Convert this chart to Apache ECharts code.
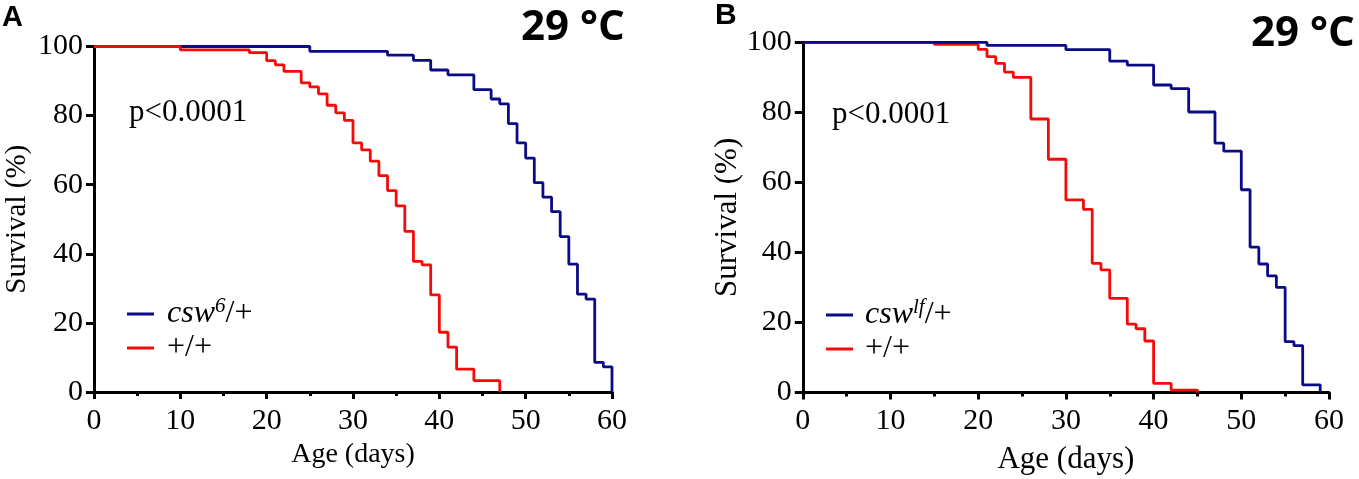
<!DOCTYPE html>
<html>
<head>
<meta charset="utf-8">
<title>Survival 29 °C</title>
<script src="https://cdn.jsdelivr.net/npm/echarts@6.0.0/dist/echarts.min.js"></script>
<style>
  html, body { margin: 0; padding: 0; background: #fff; }
  #chart { width: 1359px; height: 479px; }
</style>
</head>
<body>
<div id="chart"></div>
<script>
// survival steps: [day, % surviving after that day]
var cswA = [[0,100],[25,98.6],[34,97.5],[37,96.0],[39,93.2],[41,91.8],[44,87.5],[46,84.8],[47,83.4],
  [48,77.7],[49,72.1],[50,67.7],[51,60.6],[52,56.4],[53,52.2],[54,45.0],[55,37.0],[56,28.3],
  [57,26.9],[58,8.6],[59,7.3],[60,0]];
var wtA = [[0,100],[10,99.0],[18,98.2],[20,95.9],[21,94.7],[22,92.8],[24,89.5],[25,88.3],[26,86.3],
  [27,83.0],[28,80.8],[29,78.6],[30,72.1],[31,70.1],[32,66.8],[33,62.6],[34,58.3],[35,53.9],
  [36,46.5],[37,37.8],[38,36.8],[39,28.1],[40,17.3],[41,13.0],[42,6.6],[44,3.3],[47,0]];
var cswB = [[0,100],[21,99.1],[30,97.9],[35,94.6],[37,93.5],[40,87.8],[42,86.8],[44,80.1],[47,71.2],
  [48,68.9],[50,57.9],[51,41.5],[52,36.7],[53,33.3],[54,30.0],[55,14.5],[56,13.4],[57,2.2],[59,0]];
var wtB = [[0,100],[15,99.4],[20,98.0],[21,95.9],[22,94.0],[23,91.5],[24,90.0],[26,78.1],[28,66.6],
  [30,55.0],[32,52.3],[33,36.9],[34,35.0],[35,26.9],[37,19.5],[38,18.2],[39,14.7],[40,2.6],
  [42,0.7],[45,0]];

var legendA = ['csw6', 'wtA'];
var legendB = ['cswlf', 'wtB'];
var supText = { csw6: '6', cswlf: 'lf' };

var serif = "'Liberation Serif', 'Times New Roman', serif";
var navy = '#0b0b85';
var red = '#f50a0a';

function xAxisFor(idx, fs, gap) {
  return {
    gridIndex: idx, type: 'value', min: 0, max: 60, interval: 10,
    name: 'Age (days)', nameLocation: 'middle', nameGap: gap,
    nameTextStyle: { fontFamily: serif, fontSize: fs, color: '#000' },
    axisLine: { lineStyle: { color: '#000', width: 3 } },
    axisTick: { length: 7, lineStyle: { color: '#000', width: 3 } },
    minorTick: { show: true, splitNumber: 2, length: 4, lineStyle: { color: '#000', width: 3 } },
    axisLabel: { fontFamily: serif, fontSize: 30, color: '#000', margin: 14 },
    splitLine: { show: false }
  };
}
function yAxisFor(idx, fs, gap) {
  return {
    gridIndex: idx, type: 'value', min: 0, max: 100, interval: 20,
    name: 'Survival (%)', nameLocation: 'middle', nameGap: gap,
    nameTextStyle: { fontFamily: serif, fontSize: fs, color: '#000' },
    axisLine: { show: true, lineStyle: { color: '#000', width: 3 } },
    axisTick: { show: true, length: 8, lineStyle: { color: '#000', width: 3 } },
    axisLabel: { fontFamily: serif, fontSize: 30, color: '#000', margin: 11 },
    splitLine: { show: false }
  };
}
function stepLine(name, data, color, idx) {
  return {
    name: name, type: 'line', step: 'end', data: data, xAxisIndex: idx, yAxisIndex: idx,
    showSymbol: false, symbol: 'none', lineStyle: { color: color, width: 2.8 },
    itemStyle: { color: color }
  };
}
function richFor(pad) {
  return {
    it: { fontFamily: serif, fontStyle: 'italic', fontSize: 32, color: '#000', lineHeight: 36, padding: [0, 0, 0, pad] },
    sup: { fontFamily: serif, fontStyle: 'italic', fontSize: 21, color: '#000', lineHeight: 18, verticalAlign: 'top' },
    rm: { fontFamily: serif, fontSize: 32, color: '#000', lineHeight: 36 },
    rm0: { fontFamily: serif, fontSize: 32, color: '#000', lineHeight: 36, padding: [0, 0, 0, pad] }
  };
}
function legendText(name) {
  if (supText[name]) return '{it|csw}{sup|' + supText[name] + '}{rm|/+}';
  return '{rm0|+/+}';
}
function legendFor(names, left, top, pad) {
  return {
    data: names, orient: 'vertical', left: left, top: top, icon: 'rect',
    itemWidth: 27, itemHeight: 3, itemGap: 2, selectedMode: false,
    formatter: legendText, textStyle: { rich: richFor(pad) }
  };
}

var option = {
  animation: false,
  grid: [
    { left: 94, top: 46.5, width: 518, height: 345.5, outerBoundsMode: 'none' },
    { left: 802.8, top: 42.3, width: 526.2, height: 350.2, outerBoundsMode: 'none' }
  ],
  xAxis: [xAxisFor(0, 28, 48), xAxisFor(1, 31, 52)],
  yAxis: [yAxisFor(0, 29, 62), yAxisFor(1, 31, 52)],
  legend: [legendFor(legendA, 122, 291, 8), legendFor(legendB, 821, 292, 7)],
  series: [
    stepLine('csw6', cswA, navy, 0),
    stepLine('wtA', wtA, red, 0),
    stepLine('wtB', wtB, red, 1),
    stepLine('cswlf', cswB, navy, 1)
  ],
  graphic: [
    { type: 'text', left: 2, top: 3, style: { text: 'A', font: "bold 29px 'Liberation Sans', Arial, sans-serif", fill: '#000' } },
    { type: 'text', left: 715, top: 1, style: { text: 'B', font: "bold 30px 'Liberation Sans', Arial, sans-serif", fill: '#000' } },
    { type: 'text', left: 521, top: 7, style: { text: '29 °C', font: "bold 42px 'Open Sans', sans-serif", fill: '#000' } },
    { type: 'text', left: 1251, top: 13, style: { text: '29 °C', font: "bold 42px 'Open Sans', sans-serif", fill: '#000' } },
    { type: 'text', left: 129, top: 97, style: { text: 'p<0.0001', font: "31px " + serif, fill: '#000' } },
    { type: 'text', left: 832, top: 99, style: { text: 'p<0.0001', font: "31px " + serif, fill: '#000' } }
  ]
};

var myChart = echarts.init(document.getElementById('chart'));
myChart.setOption(option);
</script>
</body>
</html>
